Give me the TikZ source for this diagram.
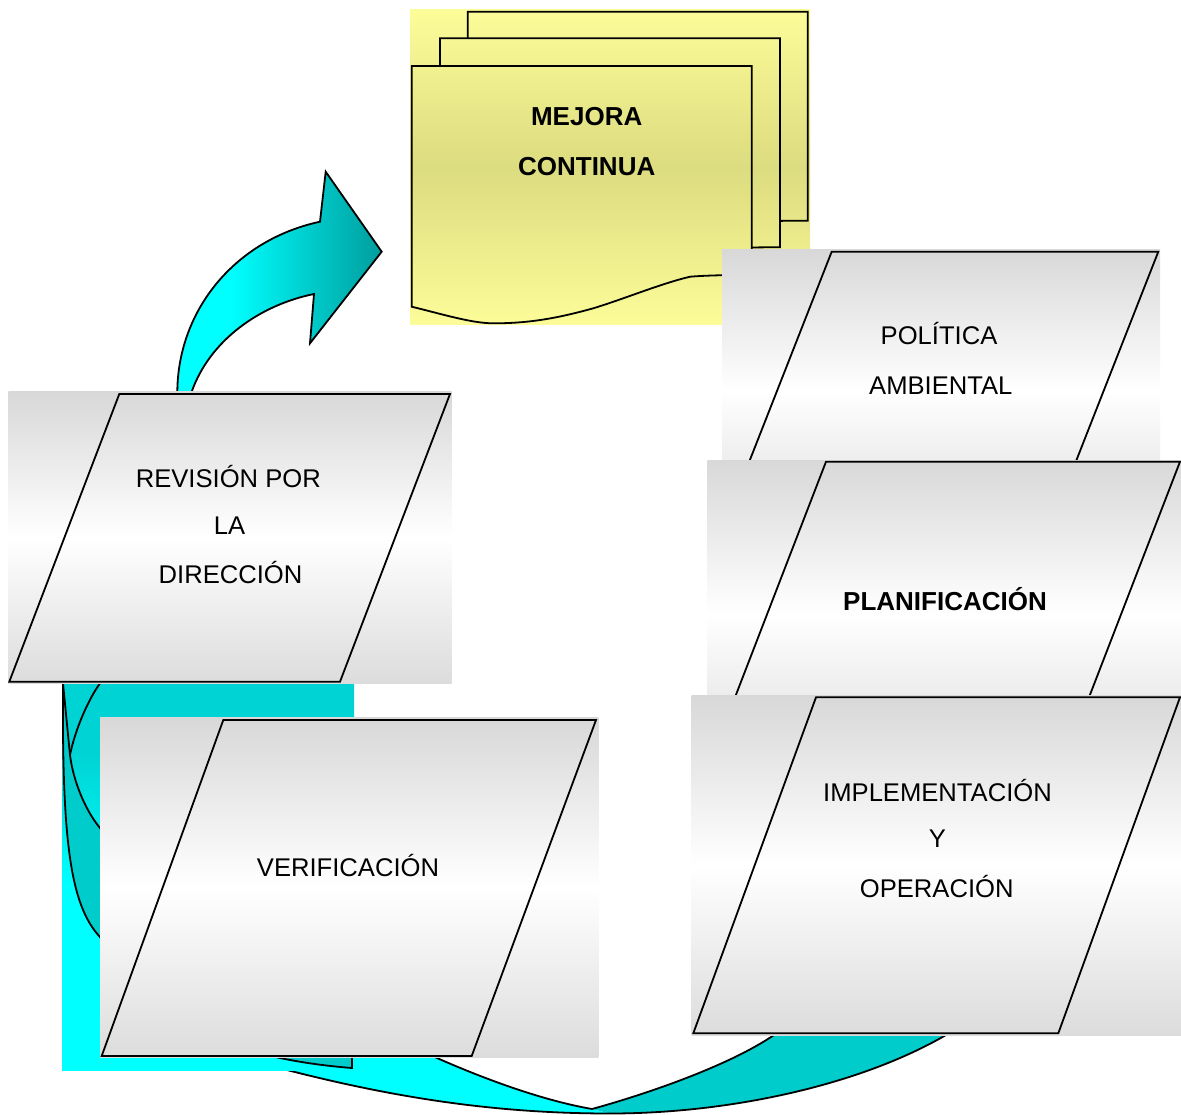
\documentclass[tikz,border=0pt]{standalone}
\usepackage{fontspec}
\setmainfont{Liberation Sans}
\definecolor{cy}{HTML}{00FFFF}
\definecolor{tealA}{HTML}{00CCCC}
\definecolor{tealbg}{HTML}{00D3D3}
\definecolor{arrowend}{HTML}{009D9D}
\definecolor{gtop}{HTML}{D8D8D8}
\definecolor{gbot}{HTML}{DCDCDC}
\definecolor{ylight}{HTML}{FCFC99}
\definecolor{ydark}{HTML}{DCDC80}
\pgfdeclarehorizontalshading{arrowsh}{100bp}{color(0bp)=(cy); color(38bp)=(cy); color(75bp)=(arrowend); color(100bp)=(arrowend)}
\pgfdeclareverticalshading{rectsh}{100bp}{color(0bp)=(cy); color(49bp)=(cy); color(66bp)=(tealbg); color(100bp)=(tealbg)}
\begin{document}
\begin{tikzpicture}[x=1pt,y=-1pt,
  outl/.style={draw=black, line width=1.8pt, line join=miter},
  grayfill/.style={top color=gtop, bottom color=gbot, middle color=white, draw=none},
  yfill/.style={top color=ylight, bottom color=ylight, middle color=ydark, draw=none},
  txt/.style={font=\fontsize{25.6}{30}\selectfont, inner sep=0pt, anchor=base, text=black},
  btxt/.style={font=\fontsize{26}{30}\selectfont\bfseries, inner sep=0pt, anchor=base, text=black}]
\useasboundingbox (0,0) rectangle (1181,1115);
\fill[white] (0,0) rectangle (1181,1115);

% ---------- multidocument (MEJORA CONTINUA) ----------
\def\sheet{(0,240.7) -- (0,0) -- (340,0) -- (340,209) .. controls (325,209) and (300,209) .. (278.3,210.7) .. controls (248,218) and (215,232) .. (181.6,242.3) .. controls (150,251) and (120,257.5) .. (81.3,257.3) .. controls (60,257.3) and (30,248) .. (0,240.7) -- cycle}
\shade[yfill] (410,10) rectangle (810,325);
\foreach \dx/\dy in {467.7/11.7, 440/38.3, 411.7/66}{
  \begin{scope}[shift={(\dx,\dy)}]
    \begin{scope}
      \clip \sheet;
      \shade[yfill] (410-\dx,10-\dy) rectangle (810-\dx,325-\dy);
    \end{scope}
    \draw[outl] \sheet;
  \end{scope}
}

% ---------- top-left curved arrow ----------
\shadedraw[shading=arrowsh, outl] (177.3,400) -- (177.3,391.7) .. controls (178,310) and (235,240) .. (320,221.7) -- (325.7,171.7) -- (381.7,251.7) -- (310,343.3) -- (314,294) .. controls (260,305) and (210,340) .. (191.7,391.7) -- (191.7,400) -- cycle;

% ---------- bottom band ----------
\fill[cy] (420,1040) -- (437,1058) .. controls (480,1077) and (540,1100) .. (592,1109) -- (610,1113.5) .. controls (500,1113.5) and (400,1099) .. (287,1070) -- (250,1040) -- cycle;
\fill[tealA] (790,1024) -- (774,1035) .. controls (730,1065) and (650,1093) .. (592,1109) -- (610,1113.5) .. controls (730,1113.5) and (860,1085) .. (946,1035) -- (946,1024) -- cycle;
\draw[outl] (260,1058) -- (287,1070) .. controls (400,1099) and (500,1113.5) .. (610,1113.5) .. controls (730,1113.5) and (860,1085) .. (946,1035);
\draw[outl] (420,1050.4) -- (437,1058) .. controls (480,1077) and (540,1100) .. (592,1109) .. controls (650,1093) and (730,1065) .. (774,1035) -- (790,1024);

% ---------- left band (back part) ----------
\shade[shading=rectsh] (62,683.3) rectangle (354,1070);
\filldraw[fill=tealA, outl] (63,680) -- (63,683.3) .. controls (62,840) and (70,905) .. (100,937) .. controls (150,1030) and (250,1060) .. (352,1068) -- (352,1000) .. controls (250,990) and (150,900) .. (100,828) .. controls (85,810) and (73,780) .. (70,755) -- (63,683.3);
\draw[outl] (100,680) -- (100,683.3) .. controls (88,700) and (75,730) .. (70,755);

% ---------- parallelograms ----------
\shade[grayfill] (722,250) rectangle (1160,531);
\draw[outl] (831.7,251.7) -- (1158.3,251.7) -- (1048.6,531) -- (722,531) -- cycle;

\shade[grayfill] (707.7,460) rectangle (1181,768);
\draw[outl] (826,461.7) -- (1180,461.7) -- (1061.7,768) -- (707.7,768) -- cycle;

\shade[grayfill] (691.7,695.7) rectangle (1181,1035);
\draw[outl] (816,697.3) -- (1180,697.3) -- (1058.3,1033.3) -- (693.3,1033.3) -- cycle;

\shade[grayfill] (8.3,391.7) rectangle (451.7,683.3);
\draw[outl] (119.3,394) -- (450,394) -- (340,681.7) -- (9.3,681.7) -- cycle;

\shade[grayfill] (100,717.7) rectangle (598.3,1057.7);
\draw[outl] (223.3,720) -- (596,720) -- (471.7,1056) -- (101.7,1056) -- cycle;

% ---------- texts ----------
\node[btxt] (mej1) at (586.7,126) {MEJORA};
\node[btxt] (mej2) at (586.7,175.7) {CONTINUA};
\node[txt] (pol1) at (939,344.3) {POLÍTICA};
\node[txt] (pol2) at (940.8,394.3) {AMBIENTAL};
\node[btxt] (plan) at (945,610) {PLANIFICACIÓN};
\node[txt] (imp1) at (937.5,801.7) {IMPLEMENTACIÓN};
\node[txt] (imp2) at (937.5,847.7) {Y};
\node[txt] (imp3) at (936.7,897.3) {OPERACIÓN};
\node[txt] (rev1) at (228.3,487.7) {REVISIÓN POR};
\node[txt] (rev2) at (229.5,534) {LA};
\node[txt] (rev3) at (230.5,583.3) {DIRECCIÓN};
\node[txt] (ver) at (348,876) {VERIFICACIÓN};
\end{tikzpicture}
\end{document}
